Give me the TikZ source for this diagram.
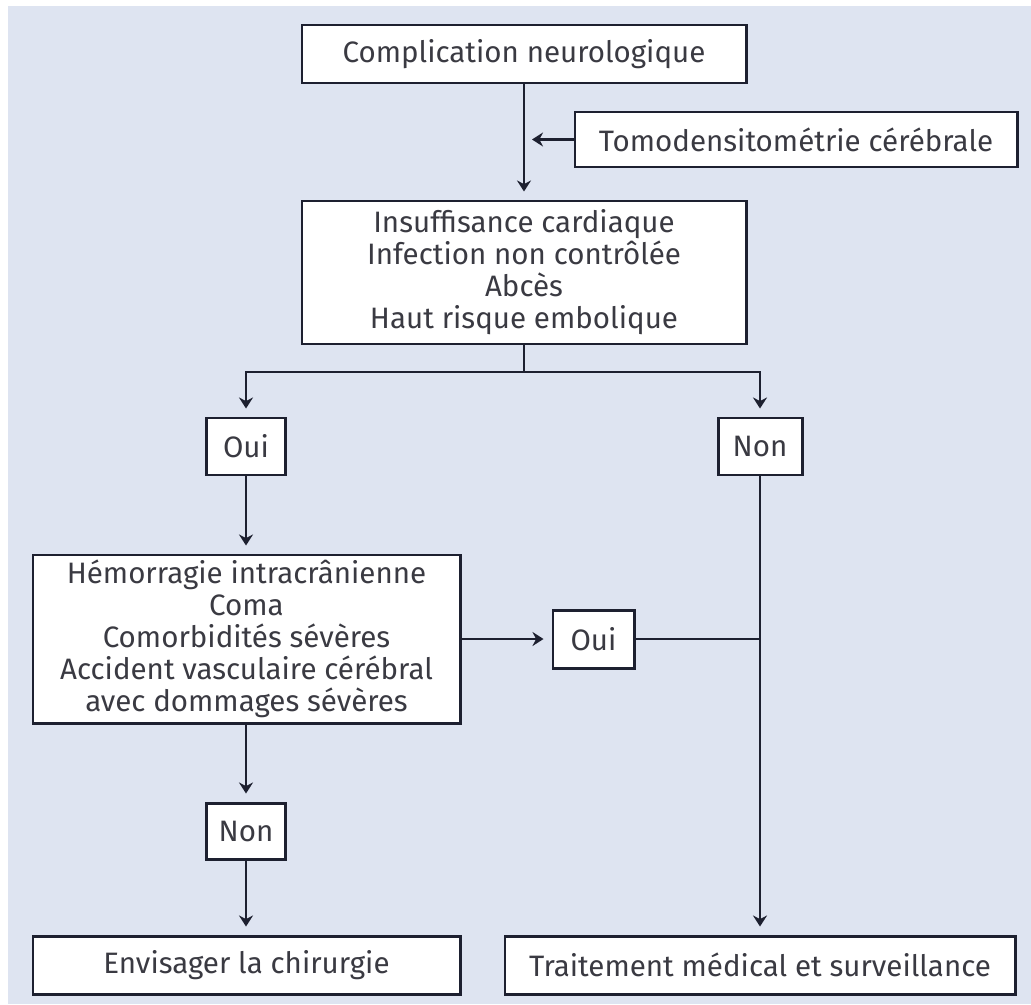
\documentclass[tikz,border=0pt]{standalone}
\usepackage{fontspec}
\setsansfont{Fira Sans}
\usepackage{xcolor}
\usepackage{tikz}
\usetikzlibrary{positioning,arrows.meta,calc}
\definecolor{ink}{HTML}{1D2030}
\definecolor{txt}{HTML}{3A3A42}
\definecolor{paper}{HTML}{DEE4F1}

\begin{document}
\begin{tikzpicture}[x=0.02cm, y=-0.02cm,
  box/.style={rectangle, draw=ink, fill=white, line width=1.7pt, inner sep=0pt, align=center, text=txt,
    font=\sffamily\fontsize{16.8pt}{18.2pt}\selectfont},
  arr/.style={-{Stealth[length=2.2mm, width=2.8mm]}, line width=1.4pt, ink, shorten >=0.16cm},
  ln/.style={line width=1.4pt, ink}]
\useasboundingbox (0,0) rectangle (1031,1004);
\fill[white] (0,0) rectangle (1031,1004);
\fill[paper] (8,6) rectangle (1031,1004);
\node[box, minimum width=0.02*444cm, minimum height=0.02*58cm] (compl) at (524,54) {Complication neurologique};
\node[box, minimum width=0.02*442cm, minimum height=0.02*55cm] (tomo) at (796,139.5) {Tomodensitométrie cérébrale};
\node[box, minimum width=0.02*444cm, minimum height=0.02*143cm] (crit) at (524,272.5) {Insuffisance cardiaque\\Infection non contrôlée\\Abcès\\Haut risque embolique};
\node[box, minimum width=0.02*79cm, minimum height=0.02*57cm] (oui1) at (246,446.5) {Oui};
\node[box, minimum width=0.02*84cm, minimum height=0.02*57cm] (non1) at (760,446.5) {Non};
\node[box, minimum width=0.02*427cm, minimum height=0.02*168cm] (hemo) at (246.5,639) {Hémorragie intracrânienne\\Coma\\Comorbidités sévères\\Accident vasculaire cérébral\\avec dommages sévères};
\node[box, minimum width=0.02*81cm, minimum height=0.02*58cm] (oui2) at (593.5,639) {Oui};
\node[box, minimum width=0.02*79cm, minimum height=0.02*56cm] (non2) at (246,831) {Non};
\node[box, minimum width=0.02*427cm, minimum height=0.02*58cm] (chir) at (246.5,965) {Envisager la chirurgie};
\node[box, minimum width=0.02*510cm, minimum height=0.02*58cm] (trait) at (760,965) {Traitement médical et surveillance};
\coordinate (tj) at (524,139.5);
\coordinate (split) at (524,372);
\coordinate (join) at (760,639);
\draw[arr] (compl) -- (crit);
\draw[arr] (tomo) -- (tj);
\draw[ln] (crit) -- (split);
\draw[arr] (split) -| (oui1); \draw[arr] (split) -| (non1);
\draw[arr] (oui1.south) -- (oui1.south |- hemo.north);
\draw[arr] (hemo) -- (oui2);
\draw[ln] (oui2) -- (join);
\draw[arr] (non1) -- (trait);
\draw[arr] (hemo.south -| non2) -- (non2);
\draw[arr] (non2) -- (non2 |- chir.north);
\end{tikzpicture}
\end{document}
